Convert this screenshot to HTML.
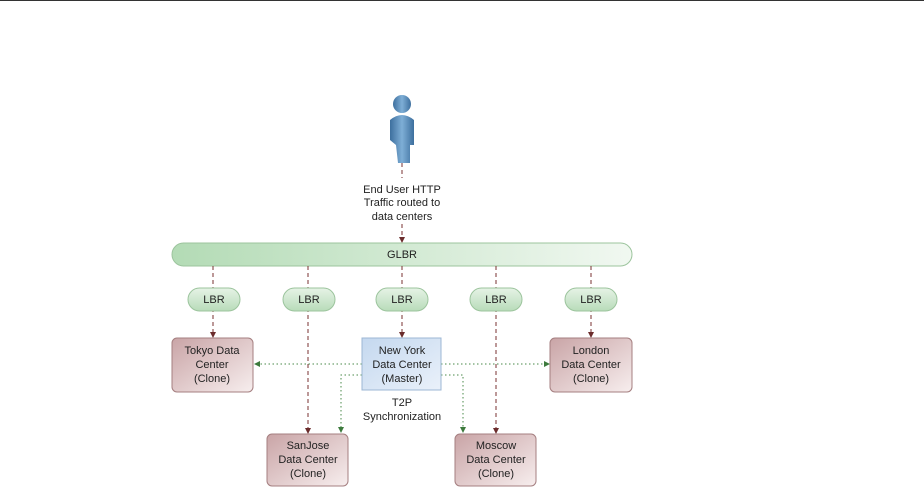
<!DOCTYPE html>
<html><head><style>
body{margin:0;width:924px;height:489px;background:#fff;overflow:hidden;font-family:"Liberation Sans",sans-serif;}
</style></head><body>
<svg width="924" height="489" xmlns="http://www.w3.org/2000/svg" font-family="Liberation Sans, sans-serif" font-size="11" fill="#222">
<defs>
<linearGradient id="gb" x1="0" x2="1"><stop offset="0" stop-color="#b3dbb5"/><stop offset="1" stop-color="#f1f8f1"/></linearGradient>
<linearGradient id="gl" x1="0" y1="0" x2="0" y2="1"><stop offset="0" stop-color="#e6f3e6"/><stop offset="1" stop-color="#b8dcb9"/></linearGradient>
<linearGradient id="gr" x1="0" y1="0" x2="1" y2="1"><stop offset="0" stop-color="#c9a4a6"/><stop offset="1" stop-color="#f7eeee"/></linearGradient>
<linearGradient id="gn" x1="0" y1="0" x2="1" y2="1"><stop offset="0" stop-color="#c4d8ef"/><stop offset="1" stop-color="#eaf1fa"/></linearGradient>
<linearGradient id="gp" x1="0" x2="1"><stop offset="0" stop-color="#3d6f9e"/><stop offset="0.5" stop-color="#7eaed6"/><stop offset="1" stop-color="#3d6f9e"/></linearGradient>
<marker id="ar" markerWidth="6" markerHeight="6" refX="5" refY="3" orient="auto"><path d="M0,0L6,3L0,6z" fill="#6b2c2c"/></marker>
<marker id="ag" markerWidth="6" markerHeight="6" refX="5" refY="3" orient="auto"><path d="M0,0L6,3L0,6z" fill="#3d7a3d"/></marker>
</defs>
<line x1="0" y1="0.5" x2="924" y2="0.5" stroke="#333" stroke-width="1"/>
<!-- person -->
<circle cx="402" cy="104" r="9" fill="url(#gp)"/>
<path d="M390,120 Q402,110 414,120 L414,145 L410,145 L410,163 L398,163 L396,145 L390,140 Z" fill="url(#gp)"/>
<path d="M402,163 L402,178" stroke="#7a3030" stroke-dasharray="4,3"/>
<text text-anchor="middle" x="402" y="193">End User HTTP</text>
<text text-anchor="middle" x="402" y="206">Traffic routed to</text>
<text text-anchor="middle" x="402" y="220">data centers</text>
<line x1="402" y1="224" x2="402" y2="242" stroke="#7a3030" stroke-dasharray="4,3" marker-end="url(#ar)"/>
<rect x="172" y="243" width="460" height="23" rx="11.5" fill="url(#gb)" stroke="#9cc49d"/>
<text text-anchor="middle" x="402" y="258">GLBR</text>
<g stroke="#7a3030" stroke-dasharray="4,3" fill="none">
<line x1="213" y1="266" x2="213" y2="337" marker-end="url(#ar)"/>
<line x1="308" y1="266" x2="308" y2="433" marker-end="url(#ar)"/>
<line x1="402" y1="266" x2="402" y2="337" marker-end="url(#ar)"/>
<line x1="496" y1="266" x2="496" y2="433" marker-end="url(#ar)"/>
<line x1="591" y1="266" x2="591" y2="337" marker-end="url(#ar)"/>
</g>
<g fill="url(#gl)" stroke="#9cc49d">
<rect x="188" y="288" width="52" height="23" rx="11.5"/>
<rect x="283" y="288" width="52" height="23" rx="11.5"/>
<rect x="376" y="288" width="52" height="23" rx="11.5"/>
<rect x="470" y="288" width="52" height="23" rx="11.5"/>
<rect x="565" y="288" width="52" height="23" rx="11.5"/>
</g>
<g text-anchor="middle"><text x="214" y="303">LBR</text><text x="309" y="303">LBR</text><text x="402" y="303">LBR</text><text x="496" y="303">LBR</text><text x="591" y="303">LBR</text></g>
<g stroke="#4a8a4a" stroke-dasharray="1.5,2.5" fill="none">
<line x1="362" y1="364" x2="255" y2="364" marker-end="url(#ag)"/>
<line x1="441" y1="364" x2="549" y2="364" marker-end="url(#ag)"/>
<polyline points="362,375 341,375 341,432" marker-end="url(#ag)"/>
<polyline points="441,375 463,375 463,432" marker-end="url(#ag)"/>
</g>
<rect x="172" y="338" width="81" height="54" rx="5" fill="url(#gr)" stroke="#a57f80"/>
<rect x="362" y="338" width="79" height="52" fill="url(#gn)" stroke="#9db7d4"/>
<rect x="550" y="338" width="82" height="54" rx="5" fill="url(#gr)" stroke="#a57f80"/>
<rect x="267" y="434" width="81" height="52" rx="5" fill="url(#gr)" stroke="#a57f80"/>
<rect x="455" y="434" width="81" height="52" rx="5" fill="url(#gr)" stroke="#a57f80"/>
<g text-anchor="middle">
<text x="212" y="354">Tokyo Data</text><text x="212" y="368">Center</text><text x="212" y="382">(Clone)</text>
<text x="402" y="354">New York</text><text x="402" y="368">Data Center</text><text x="402" y="382">(Master)</text>
<text x="591" y="354">London</text><text x="591" y="368">Data Center</text><text x="591" y="382">(Clone)</text>
<text x="402" y="406">T2P</text><text x="402" y="420">Synchronization</text>
<text x="308" y="449">SanJose</text><text x="308" y="463">Data Center</text><text x="308" y="477">(Clone)</text>
<text x="496" y="449">Moscow</text><text x="496" y="463">Data Center</text><text x="496" y="477">(Clone)</text>
</g>
</svg>
</body></html>
